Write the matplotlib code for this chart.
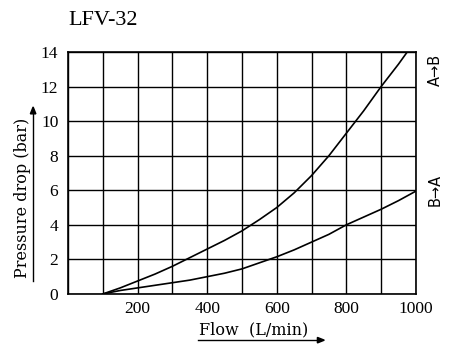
import matplotlib.pyplot as plt

# data
flow_ab = [100, 150, 200, 250, 300, 350, 400, 450, 500, 550, 600, 650, 700, 750, 800, 850, 900, 950, 975]
dp_ab = [0, 0.35, 0.75, 1.15, 1.6, 2.1, 2.6, 3.1, 3.65, 4.3, 5.0, 5.85, 6.85, 8.0, 9.3, 10.6, 12.0, 13.3, 14.0]

flow_ba = [100, 150, 200, 250, 300, 350, 400, 450, 500, 550, 600, 650, 700, 750, 800, 850, 900, 950, 1000]
dp_ba = [0, 0.2, 0.35, 0.5, 0.65, 0.8, 1.0, 1.2, 1.45, 1.8, 2.15, 2.55, 3.0, 3.45, 4.0, 4.45, 4.9, 5.4, 5.95]

x_labels = ['200', '400', '600', '800', '1000']
y_ticks = [0, 2, 4, 6, 8, 10, 12, 14]

serif = 'DejaVu Serif'
num_font = 'Liberation Serif'

fig = plt.figure(figsize=(4.6, 3.45), dpi=100)
ax = fig.add_axes([0.148, 0.148, 0.756, 0.701])

ax.plot(flow_ab, dp_ab, color='black', lw=1.2, zorder=3)
ax.plot(flow_ba, dp_ba, color='black', lw=1.2, zorder=3)

ax.set_xlim(0, 1000)
ax.set_ylim(0, 14)
ax.set_xticks(range(0, 1001, 100))
ax.set_xticklabels(['' if v % 200 or v == 0 else str(v) for v in range(0, 1001, 100)])
ax.set_yticks(y_ticks)
ax.set_yticklabels([str(v) for v in y_ticks])
ax.grid(True, color='black', lw=1.0)
ax.tick_params(length=0, labelsize=12.5)
ax.tick_params(axis='x', pad=5)
ax.tick_params(axis='y', pad=7)
for lab in ax.get_xticklabels() + ax.get_yticklabels():
    lab.set_family(num_font)
for sp in ax.spines.values():
    sp.set_linewidth(1.2)

# title
fig.text(0.148, 0.942, 'LFV-32', fontsize=16, family=num_font, ha='left', va='center')

# y label with arrow underline
fig.text(0.048, 0.426, 'Pressure drop (bar)', fontsize=11.5, family=serif,
         rotation=90, ha='center', va='center')
fig.add_artist(plt.Line2D([0.072, 0.072], [0.185, 0.67], color='black', lw=1.0))
fig.patches.append(plt.Polygon([[0.066, 0.67], [0.078, 0.67], [0.072, 0.69]],
                               closed=True, color='black', transform=fig.transFigure))

# x label with arrow underline
fig.text(0.552, 0.043, 'Flow  (L/min)', fontsize=11.5, family=serif, ha='center', va='center')
fig.add_artist(plt.Line2D([0.43, 0.69], [0.014, 0.014], color='black', lw=1.0))
fig.patches.append(plt.Polygon([[0.69, 0.006], [0.69, 0.022], [0.705, 0.014]],
                               closed=True, color='black', transform=fig.transFigure))

# direction labels
fig.text(0.946, 0.797, 'A→B', fontsize=10.5, rotation=90, ha='center', va='center')
fig.text(0.946, 0.449, 'B→A', fontsize=10.5, rotation=90, ha='center', va='center')

fig.savefig('out.png', dpi=100)
